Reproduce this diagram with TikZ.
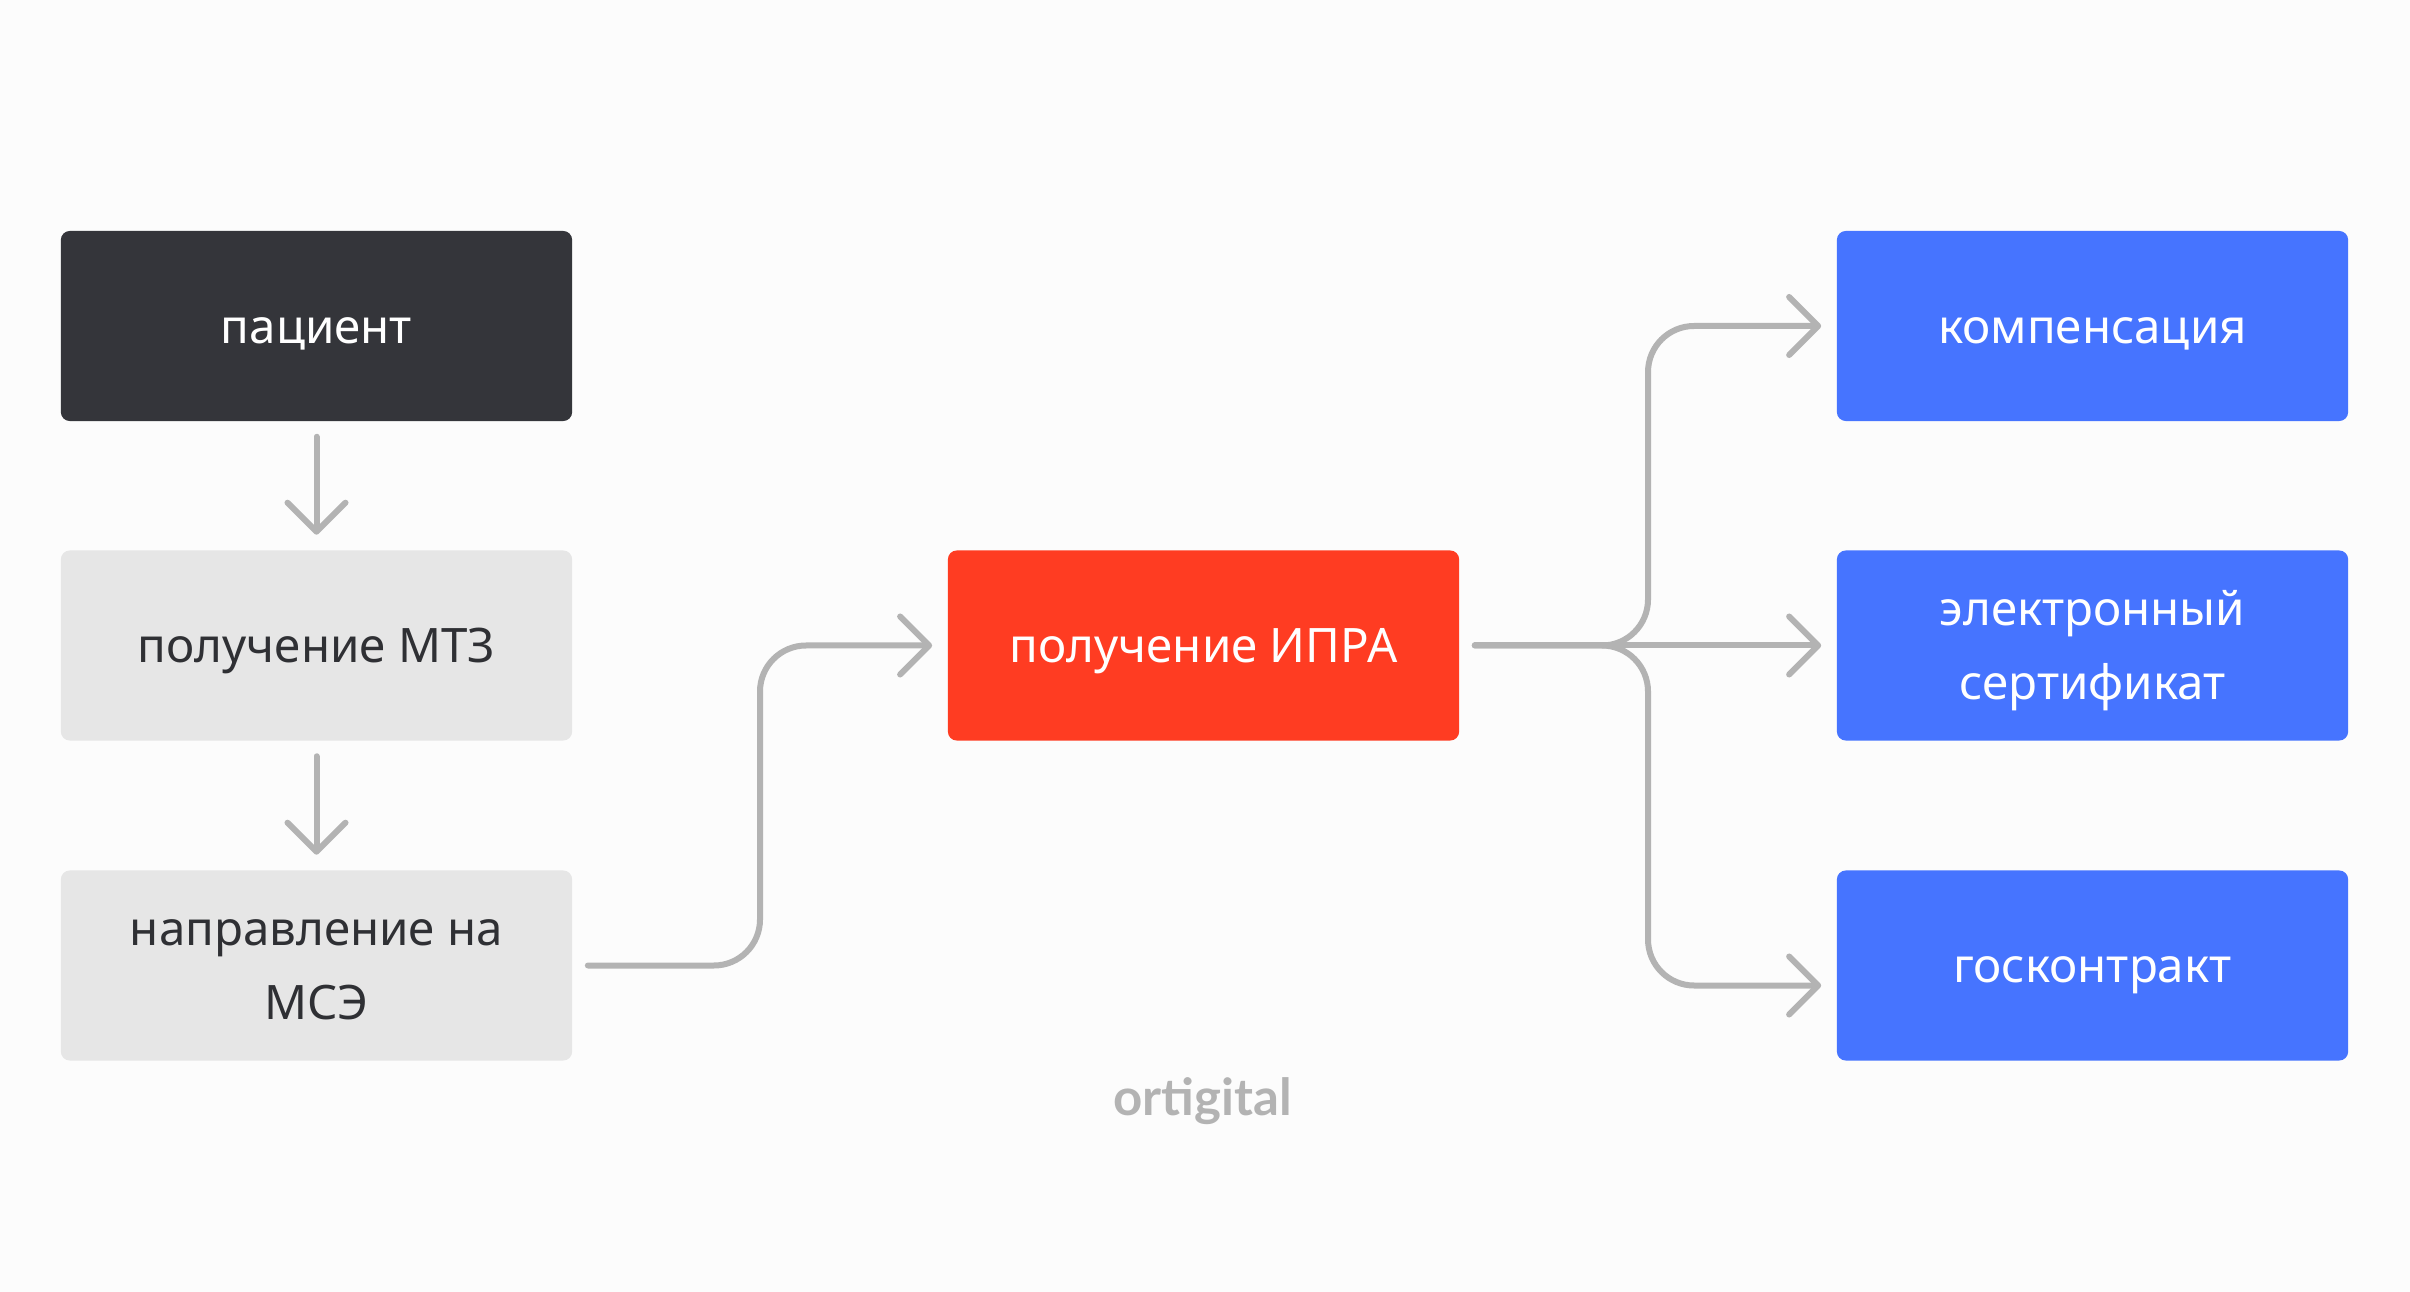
\documentclass[tikz,border=0pt]{standalone}
\usepackage{fontspec}
\setmainfont{Noto Sans}
\newfontfamily\wmfont{Lato}
\usetikzlibrary{arrows.meta,calc}
\definecolor{bg}{HTML}{FCFCFC}
\definecolor{darkbox}{HTML}{34353A}
\definecolor{lightbox}{HTML}{E6E6E6}
\definecolor{redbox}{HTML}{FF3C22}
\definecolor{bluebox}{HTML}{4674FF}
\definecolor{txtdark}{HTML}{2F3034}
\definecolor{arrowgray}{HTML}{B3B3B3}
\begin{document}
\begin{tikzpicture}[x=0.01cm,y=-0.01cm,
  box/.style={rounded corners=0.09cm, minimum width=5.11cm, minimum height=1.9cm,
    inner sep=0pt, align=center, font=\fontsize{13.5pt}{21.06pt}\selectfont,
    text height=0.34cm, text depth=0cm},
  twoline/.style={text height=1.08cm, text depth=0cm},
  conn/.style={draw=arrowgray, line width=0.06cm, line cap=round, line join=round,
    rounded corners=0.46cm, shorten <=0.15cm, shorten >=0.15cm,
    -{Straight Barb[length=0.29cm,width=0.58cm,round]}}]
\fill[bg] (0,0) rectangle (2410,1292);
\useasboundingbox (0,0) rectangle (2410,1292);

\node[box, fill=darkbox, text=white] (A) at (316.5,326) {пациент};
\node[box, fill=lightbox, text=txtdark] (B) at (316.5,645.5) {получение МТЗ};
\node[box, twoline, fill=lightbox, text=txtdark] (C) at (316.5,965.5) {направление на\\МСЭ};
\node[box, fill=redbox, text=white] (D) at (1203.5,645.5) {получение ИПРА};
\node[box, fill=bluebox, text=white] (E) at (2092.5,326) {компенсация};
\node[box, twoline, fill=bluebox, text=white] (F) at (2092.5,645.5) {электронный\\сертификат};
\node[box, fill=bluebox, text=white] (G) at (2092.5,965.5) {госконтракт};
\node[anchor=base, inner sep=0pt, text=arrowgray, font=\wmfont\bfseries\fontsize{14.5pt}{16pt}\selectfont] (W) at (1202.5,1115) {ortigital};

\coordinate (m1) at ($(C.east)!0.5!(D.west)$);
\coordinate (m2) at ($(D.east)!0.5!(E.west)$);
\coordinate (g1) at ($(G.west)+(0,20)$);
\coordinate (m3) at ($(D.east)!0.5!(g1)$);

\draw[conn] (A) -- (B);
\draw[conn] (B) -- (C);
\draw[conn] (C.east) -| (m1) |- (D.west);
\draw[conn] (D.east) -- (F.west);
\draw[conn] (D.east) -| (m2) |- (E.west);
\draw[conn] (D.east) -| (m3) |- (g1);
\end{tikzpicture}
\end{document}
